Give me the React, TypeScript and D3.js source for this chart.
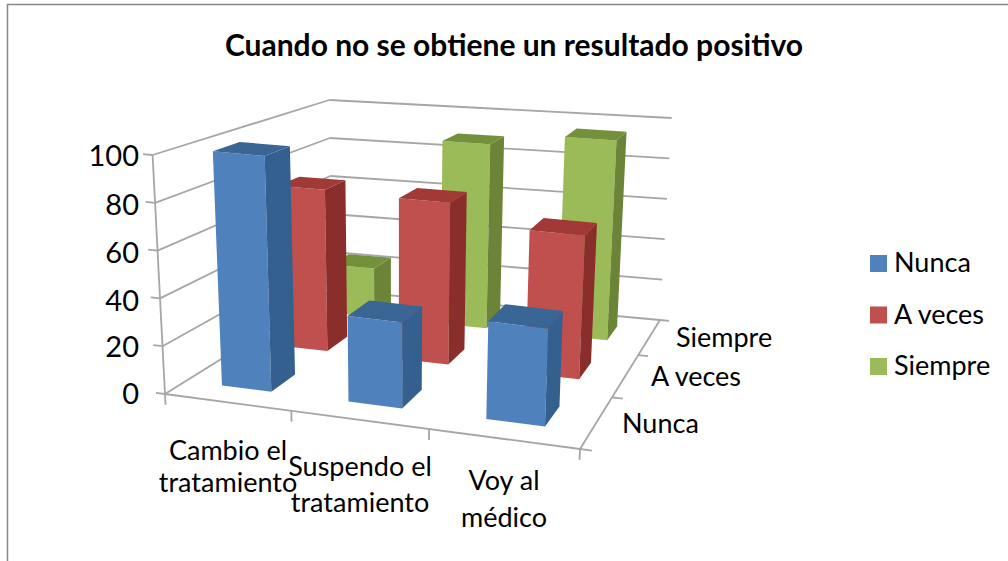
import React from "react";
import * as d3 from "d3";

const categories = ["Cambio el|tratamiento", "Suspendo el|tratamiento", "Voy al|médico"];
const seriesNames = ["Nunca", "A veces", "Siempre"];
const nunca = [100, 36, 41];
const aVeces = [74, 73, 64];
const siempre = [24, 89, 95];
const yTicks = [0, 20, 40, 60, 80, 100];
const faceColors = ["#4F81BD", "#C0504D", "#9BBB59"];
const sideColors = ["#34608F", "#8A2E2C", "#6C8438"];
const topColors = ["#3A6696", "#A13936", "#73913A"];

type P = [number, number];
function squareToQuad(p0: P, p1: P, p2: P, p3: P) {
  const dx1 = p1[0] - p2[0], dx2 = p3[0] - p2[0], dx3 = p0[0] - p1[0] + p2[0] - p3[0];
  const dy1 = p1[1] - p2[1], dy2 = p3[1] - p2[1], dy3 = p0[1] - p1[1] + p2[1] - p3[1];
  const det = dx1 * dy2 - dx2 * dy1;
  const g = (dx3 * dy2 - dx2 * dy3) / det, h = (dx1 * dy3 - dx3 * dy1) / det;
  const a = p1[0] - p0[0] + g * p1[0], b = p3[0] - p0[0] + h * p3[0];
  const d = p1[1] - p0[1] + g * p1[1], e = p3[1] - p0[1] + h * p3[1];
  return (u: number, v: number): P => {
    const w = g * u + h * v + 1;
    return [(a * u + b * v + p0[0]) / w, (d * u + e * v + p0[1]) / w];
  };
}
// floor and top plane of the chart box: front-left, front-right, back-right, back-left
const floor = squareToQuad([165, 394], [580, 449], [660, 320], [332, 290]);
const ceil = squareToQuad([152.7, 155], [590, 207], [671.7, 118], [326.7, 100]);
const yScale = d3.scaleLinear().domain([0, 100]).range([0, 1]);
// verticals converge on a vanishing point far below the chart
const VP: P = [397, 4860];
const project = (u: number, v: number, val: number): P => {
  const a = floor(u, v), b = ceil(u, v), t = yScale(val);
  const y = a[1] + (b[1] - a[1]) * t;
  const x = a[0] + ((VP[0] - a[0]) / (VP[1] - a[1])) * (y - a[1]);
  return [x, y];
};
const xBand = d3.scaleBand<number>().domain([0, 1, 2]).range([0, 1]).paddingInner(0.6).paddingOuter(0.3);
const zBand = d3.scaleBand<number>().domain([0, 1, 2]).range([0, 1]).paddingInner(0.6).paddingOuter(0.3);
const poly = d3.line();
const GRID = "#A6A6A6";
const FONT = "Lato, Carlito, sans-serif";

export default function App() {
  const values = [nunca, aVeces, siempre];
  const bars: React.ReactNode[] = [];
  [2, 1, 0].forEach((s) => {
    categories.forEach((_, c) => {
      const u0 = xBand(c)!, u1 = u0 + xBand.bandwidth();
      const v0 = zBand(s)!, v1 = v0 + zBand.bandwidth();
      const h = values[s][c];
      bars.push(
        <g key={`${s}-${c}`}>
          <path d={poly([project(u0, v0, 0), project(u1, v0, 0), project(u1, v0, h), project(u0, v0, h)])! + "Z"} fill={faceColors[s]} />
          <path d={poly([project(u1, v0, 0), project(u1, v1, 0), project(u1, v1, h), project(u1, v0, h)])! + "Z"} fill={sideColors[s]} />
          <path d={poly([project(u0, v0, h), project(u1, v0, h), project(u1, v1, h), project(u0, v1, h)])! + "Z"} fill={topColors[s]} />
        </g>
      );
    });
  });
  const seg = (a: P, b: P, k: string) => (
    <line key={k} x1={a[0]} y1={a[1]} x2={b[0]} y2={b[1]} stroke={GRID} strokeWidth={1.8} />
  );
  const catLabelPos: [number, number, number][] = [[228, 460, 492], [360, 476, 512], [504, 490, 527]];
  const depthLabelPos: [number, number][] = [[622, 433], [651, 386], [676, 347]];
  const yLabelY = [404, 357, 311, 263, 215, 166];
  return (
    <svg width={1008} height={561} style={{ position: "absolute", left: 0, top: 0, display: "block" }} fontFamily={FONT}>
      <rect width={1008} height={561} fill="#fff" />
      <path d="M7.5,561V4.5H1008" fill="none" stroke="#868686" strokeWidth={1.5} />
      <text x={514} y={56} textAnchor="middle" fontWeight={700} fontSize={30} fill="#000">Cuando no se obtiene un resultado positivo</text>

      {yTicks.map((t) => (
        <g key={t}>
          {seg(project(-0.025, 0, t), project(0, 0, t), `yt${t}`)}
          {seg(project(0, 0, t), project(0, 1, t), `yl${t}`)}
          {seg(project(0, 1, t), project(1, 1, t), `yb${t}`)}
        </g>
      ))}
      {seg(project(0, 0, 0), project(0, 0, 100), "yaxis")}
      {seg(project(0, 0, 0), project(1, 0, 0), "xaxis")}
      {seg(project(1, 0, 0), project(1, 1, 0), "zaxis")}
      {[0, 1 / 3, 2 / 3, 1].map((u, i) => seg(project(u, 0, 0), project(u, 0, -4.5), `xt${i}`))}
      {[0, 1 / 3, 2 / 3, 1].map((v, i) => seg(project(1, v, 0), project(1.025, v, 0), `zt${i}`))}

      {bars}

      {yTicks.map((t, i) => (
        <text key={t} x={139} y={yLabelY[i]} textAnchor="end" fontSize={29} fill="#000">{t}</text>
      ))}
      {categories.map((c, i) => (
        <g key={c} textAnchor="middle" fontSize={27} fill="#000">
          <text x={catLabelPos[i][0]} y={catLabelPos[i][1]}>{c.split("|")[0]}</text>
          <text x={catLabelPos[i][0]} y={catLabelPos[i][2]}>{c.split("|")[1]}</text>
        </g>
      ))}
      {seriesNames.map((n, i) => (
        <text key={n} x={depthLabelPos[i][0]} y={depthLabelPos[i][1]} fontSize={27} fill="#000">{n}</text>
      ))}
      {seriesNames.map((n, i) => (
        <g key={n}>
          <rect x={870} y={255 + i * 51.5} width={17} height={17} fill={faceColors[i]} />
          <text x={894} y={272 + i * 51.5} fontSize={27} fill="#000">{n}</text>
        </g>
      ))}
    </svg>
  );
}
